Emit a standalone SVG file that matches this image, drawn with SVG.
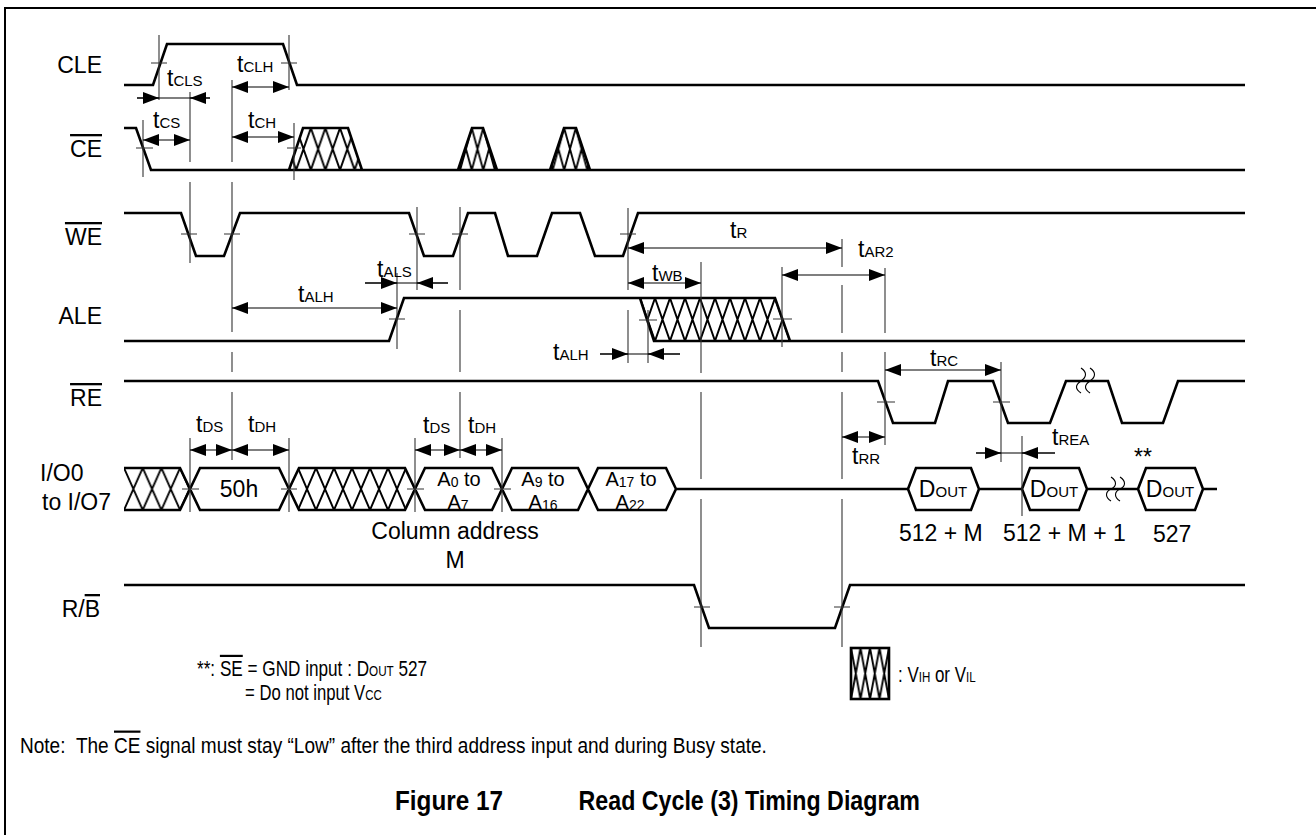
<svg xmlns="http://www.w3.org/2000/svg" width="1316" height="835" viewBox="0 0 1316 835">
<style>
.sig{fill:none;stroke:#000;stroke-width:2.6;stroke-linejoin:miter}
.tk{fill:none;stroke:#333;stroke-width:1.1}
.dim{fill:none;stroke:#000;stroke-width:1.1}
.lb{font-family:"Liberation Sans",Arial,sans-serif;font-size:23px;fill:#000}
.s{font-size:15px}
.ab{font-size:20px}
.as{font-size:14px}
.ol{text-decoration:overline}
.brk{fill:none;stroke:#000;stroke-width:1.1}
.hl{stroke:#000;stroke-width:1.9;fill:none}
.bt{font-family:"Liberation Sans",Arial,sans-serif;font-size:22px;fill:#000}
.bs{font-size:15px}
.ttl{font-family:"Liberation Sans",Arial,sans-serif;font-size:27px;font-weight:bold;fill:#000}
</style>
<defs>
<marker id="a" viewBox="0 0 16 12" refX="16" refY="6" markerWidth="16" markerHeight="12" markerUnits="userSpaceOnUse" orient="auto-start-reverse"><path d="M0,0 L16,6 L0,12 z" fill="#000"/></marker>
<pattern id="hCE" patternUnits="userSpaceOnUse" x="296.2" y="128" width="14.6" height="42"><path class="hl" d="M0,0 L14.6,42 M14.6,0 L0,42"/></pattern>
<pattern id="hB" patternUnits="userSpaceOnUse" x="471.72" y="128" width="11.56" height="42"><path class="hl" d="M0,0 L11.56,42 M11.56,0 L0,42"/></pattern>
<pattern id="hALE" patternUnits="userSpaceOnUse" x="640" y="298" width="15" height="43"><path class="hl" d="M0,0 L15,43 M15,0 L0,43"/></pattern>
<pattern id="hIO1" patternUnits="userSpaceOnUse" x="124" y="468" width="18.7" height="42"><path class="hl" d="M0,0 L18.7,42 M18.7,0 L0,42"/></pattern>
<pattern id="hIO2" patternUnits="userSpaceOnUse" x="280" y="468" width="18" height="42"><path class="hl" d="M0,0 L18,42 M18,0 L0,42"/></pattern>
<pattern id="hLeg" patternUnits="userSpaceOnUse" x="851" y="648" width="9.5" height="51"><path class="hl" d="M0,0 L9.5,51 M9.5,0 L0,51"/></pattern>
</defs>
<rect width="1316" height="835" fill="#fff"/>
<path d="M5,835 V8 H1316" fill="none" stroke="#000" stroke-width="2"/>

<g id="CLE">
<text class="lb" x="102" y="73" text-anchor="end">CLE</text>
<path class="sig" d="M124,85 H153 L167,44 H283 L297,85 H1245"/>
</g>
<g id="CE">
<text class="lb" x="102" y="157" text-anchor="end"><tspan class="ol">CE</tspan></text>
<polygon points="289,170 303,128 348,128 362,170" fill="url(#hCE)"/>
<polygon points="458,170 472,128 483,128 497,170" fill="url(#hB)"/>
<polygon points="550,170 564,128 576,128 590,170" fill="url(#hB)"/>
<path class="sig" d="M124,128 H136 L151,170 H1245 M289,170 L303,128 H348 L362,170 M458,170 L472,128 H483 L497,170 M550,170 L564,128 H576 L590,170"/>
</g>
<g id="WE">
<text class="lb" x="102" y="245" text-anchor="end"><tspan class="ol">WE</tspan></text>
<path class="sig" d="M124,213 H181 L196,256 H224 L240,213 H409 L424,256 H453 L468,213 H495 L508,256 H537 L552,213 H580 L595,256 H623 L638,213 H1245"/>
</g>
<g id="ALE">
<text class="lb" x="102" y="324" text-anchor="end">ALE</text>
<polygon points="640,298 775,298 790,341 654,341" fill="url(#hALE)"/>
<path class="sig" d="M124,341 H389 L404,298 H640 L654,341 H1245 M640,298 H775 L790,341"/>
</g>
<g id="RE">
<text class="lb" x="102" y="406" text-anchor="end"><tspan class="ol">RE</tspan></text>
<path class="sig" d="M124,381 H878 L893,423 H935 L948,381 H993 L1008,423 H1050 L1066,381 H1108 L1122,423 H1163 L1178,381 H1245"/>
<path class="brk" d="M1081,368 C1087,372 1087,377 1081,381 C1075,385 1075,389 1081,393 M1090,368 C1096,372 1096,377 1090,381 C1084,385 1084,389 1090,393"/>
</g>
<g id="IO">
<text class="lb" x="40" y="481">I/O0</text>
<text class="lb" x="42" y="510">to I/O7</text>
<polygon points="124,468 180,468 190,489 180,510 124,510" fill="url(#hIO1)"/>
<polygon points="289,489 299,468 405,468 415,489 405,510 299,510" fill="url(#hIO2)"/>
<path class="sig" d="M124,468 H180 L200,510 H279 L299,468 H405 L425,510 H492 L512,468 H578 L598,510 H666 L676,489 H908 M124,510 H180 L200,468 H279 L299,510 H405 L425,468 H492 L512,510 H578 L598,468 H666 L676,489"/>
<path class="sig" d="M908,489 L916,468 H971 L979,489 L971,510 H916 Z M979,489 H1022 M1022,489 L1030,468 H1079 L1087,489 L1079,510 H1030 Z M1087,489 H1138 M1138,489 L1146,468 H1195 L1203,489 L1195,510 H1146 Z M1203,489 H1217"/>
<path class="brk" d="M1111,477 C1117,481 1117,486 1111,489 C1105,492 1105,497 1111,501 M1120,477 C1126,481 1126,486 1120,489 C1114,492 1114,497 1120,501"/>
<text class="lb" x="239" y="497" text-anchor="middle">50h</text>
<text class="lb ab" x="459" y="485.5" text-anchor="middle">A<tspan class="as" dy="1.5">0</tspan><tspan dy="-1.5"> to</tspan></text>
<text class="lb ab" x="458" y="508.5" text-anchor="middle">A<tspan class="as" dy="1">7</tspan></text>
<text class="lb ab" x="543" y="485.5" text-anchor="middle">A<tspan class="as" dy="1.5">9</tspan><tspan dy="-1.5"> to</tspan></text>
<text class="lb ab" x="543" y="508.5" text-anchor="middle">A<tspan class="as" dy="1">16</tspan></text>
<text class="lb ab" x="631" y="485.5" text-anchor="middle">A<tspan class="as" dy="1.5">17</tspan><tspan dy="-1.5"> to</tspan></text>
<text class="lb ab" x="630" y="508.5" text-anchor="middle">A<tspan class="as" dy="1">22</tspan></text>
<text class="lb" x="943" y="497" text-anchor="middle">D<tspan class="s">OUT</tspan></text>
<text class="lb" x="1054" y="497" text-anchor="middle">D<tspan class="s">OUT</tspan></text>
<text class="lb" x="1170" y="497" text-anchor="middle">D<tspan class="s">OUT</tspan></text>
<text class="lb" x="1143" y="465" text-anchor="middle" font-size="17">**</text>
<text class="lb" x="455" y="539" text-anchor="middle">Column address</text>
<text class="lb" x="455" y="568" text-anchor="middle">M</text>
<text class="lb" x="899" y="541">512 + M</text>
<text class="lb" x="1003" y="541">512 + M + 1</text>
<text class="lb" x="1153" y="542">527</text>
</g>
<g id="RB">
<text class="lb" x="100" y="617" text-anchor="end">R/<tspan class="ol">B</tspan></text>
<path class="sig" d="M124,585 H694 L709,628 H835 L850,585 H1245"/>
</g>

<g id="ticks">
<path class="tk" d="M159,35 V100 M289,35 V90 M190,92 V162 M190,182 V263 M143,120 V177 M232,80 V162 M232,182 V332 M232,352 V372 M232,392 V460 M294,123 V180 M417,207 V290 M397,273 V349 M460,207 V290 M460,310 V372 M460,392 V458 M628,208 V290 M628,310 V363 M648,310 V363 M701,262 V373 M701,392 V479 M701,499 V647 M842,239 V267 M842,285 V333 M842,352 V372 M842,392 V479 M842,499 V647 M782,267 V347 M885,268 V333 M885,352 V445 M1001,362 V462 M1022,436 V516 M190,438 V512 M289,438 V512 M415,438 V512 M502,438 V512"/>
<path class="tk" d="M151,63 H167 M281,63 H297 M136,148 H153 M287,148 H301 M181,234 H197 M224,234 H240 M409,234 H425 M452,234 H468 M620,234 H636 M389,319 H405 M639,320 H657 M773,319 H792 M877,402 H895 M993,402 H1010 M182,489 H199 M281,489 H297 M407,489 H424 M494,489 H511 M694,607 H710 M834,607 H850"/>
</g>

<g id="connectors">
<path class="dim" d="M137,98 H210"/><path class="dim" d="M137,98 H159" marker-end="url(#a)"/><path class="dim" d="M210,98 H190" marker-end="url(#a)"/>
<path class="dim" d="M232,87 H289" marker-start="url(#a)" marker-end="url(#a)"/>
<path class="dim" d="M143,140 H190" marker-start="url(#a)" marker-end="url(#a)"/>
<path class="dim" d="M232,137 H294" marker-start="url(#a)" marker-end="url(#a)"/>
<path class="dim" d="M365,283 H448"/><path class="dim" d="M365,283 H397" marker-end="url(#a)"/><path class="dim" d="M448,283 H417" marker-end="url(#a)"/>
<path class="dim" d="M232,308 H397" marker-start="url(#a)" marker-end="url(#a)"/>
<path class="dim" d="M628,248 H842" marker-start="url(#a)" marker-end="url(#a)"/>
<path class="dim" d="M628,283 H701" marker-start="url(#a)" marker-end="url(#a)"/>
<path class="dim" d="M782,275 H885" marker-start="url(#a)" marker-end="url(#a)"/>
<path class="dim" d="M600,354 H680"/><path class="dim" d="M600,354 H628" marker-end="url(#a)"/><path class="dim" d="M680,354 H648" marker-end="url(#a)"/>
<path class="dim" d="M885,370 H1001" marker-start="url(#a)" marker-end="url(#a)"/>
<path class="dim" d="M842,437 H885" marker-start="url(#a)" marker-end="url(#a)"/>
<path class="dim" d="M976,453 H1055"/><path class="dim" d="M976,453 H1001" marker-end="url(#a)"/><path class="dim" d="M1055,453 H1022" marker-end="url(#a)"/>
<path class="dim" d="M190,450 H232" marker-start="url(#a)" marker-end="url(#a)"/>
<path class="dim" d="M232,450 H289" marker-start="url(#a)" marker-end="url(#a)"/>
<path class="dim" d="M415,450 H460" marker-start="url(#a)" marker-end="url(#a)"/>
<path class="dim" d="M460,450 H502" marker-start="url(#a)" marker-end="url(#a)"/>
</g>

<g id="timing-labels">
<text class="lb" x="167" y="86">t<tspan class="s">CLS</tspan></text>
<text class="lb" x="237" y="72">t<tspan class="s">CLH</tspan></text>
<text class="lb" x="153" y="128">t<tspan class="s">CS</tspan></text>
<text class="lb" x="248" y="128">t<tspan class="s">CH</tspan></text>
<text class="lb" x="377" y="277">t<tspan class="s">ALS</tspan></text>
<text class="lb" x="298" y="302">t<tspan class="s">ALH</tspan></text>
<text class="lb" x="730" y="238">t<tspan class="s">R</tspan></text>
<text class="lb" x="652" y="281">t<tspan class="s">WB</tspan></text>
<text class="lb" x="858" y="257">t<tspan class="s">AR2</tspan></text>
<text class="lb" x="553" y="360">t<tspan class="s">ALH</tspan></text>
<text class="lb" x="930" y="366">t<tspan class="s">RC</tspan></text>
<text class="lb" x="852" y="464">t<tspan class="s">RR</tspan></text>
<text class="lb" x="1052" y="445">t<tspan class="s">REA</tspan></text>
<text class="lb" x="196" y="432">t<tspan class="s">DS</tspan></text>
<text class="lb" x="248" y="432">t<tspan class="s">DH</tspan></text>
<text class="lb" x="423" y="433">t<tspan class="s">DS</tspan></text>
<text class="lb" x="468" y="433">t<tspan class="s">DH</tspan></text>
</g>

<g id="legend">
<rect x="851" y="648" width="38" height="51" fill="url(#hLeg)" stroke="#000" stroke-width="2.6"/>
<text class="bt" transform="translate(898,682) scale(0.77,1)">: V<tspan class="bs">IH</tspan> or V<tspan class="bs">IL</tspan></text>
</g>

<g id="notes">
<text class="bt" transform="translate(197,676) scale(0.78,1)">**: <tspan class="ol">SE</tspan> = GND input : D<tspan class="bs">OUT</tspan> 527</text>
<text class="bt" transform="translate(245,700) scale(0.76,1)">= Do not input V<tspan class="bs">CC</tspan></text>
<text class="bt" transform="translate(20,753) scale(0.866,1)">Note:<tspan dx="12">The </tspan><tspan class="ol">CE</tspan> signal must stay “Low” after the third address input and during Busy state.</text>
<text class="ttl" transform="translate(395,810) scale(0.9,1)">Figure 17</text>
<text class="ttl" transform="translate(920,810) scale(0.86,1)" text-anchor="end">Read Cycle (3) Timing Diagram</text>
</g>
</svg>
